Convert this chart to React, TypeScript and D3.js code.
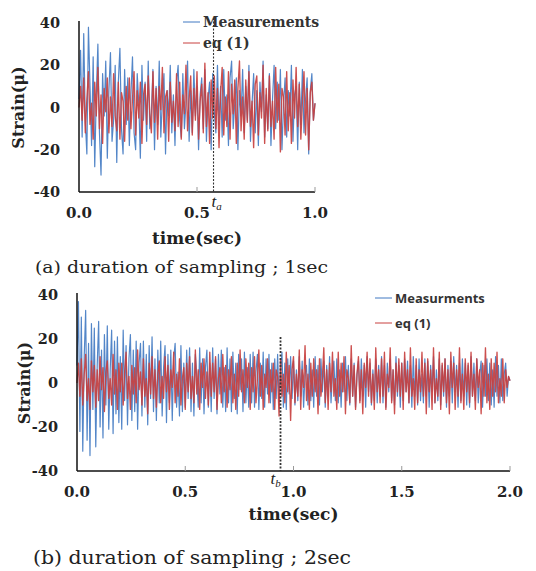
import React from "react";
import * as d3 from "d3";

// ---------- data ----------
const yTicks = [40, 20, 0, -20, -40];
const xTicksA = [0, 0.5, 1.0];
const xTicksB = [0, 0.5, 1.0, 1.5, 2.0];
const legendA = ["Measurements", "eq (1)"];
const legendB = ["Measurments", "eq (1)"];
const markerA = 0.57;
const markerB = 0.94;

// panel (a): 0 - 1 sec
const measA = [
  4, 27, -14, 35, -6, -22, 38, 10, -18, 24, -28, 6, 30, -12, -32, 16,
  -4, 22, -24, 8, 26, -16, -6, 20, -26, 12, 28, -10, -22, 18, -8,
  14, -18, 6, 24, -12, -20, 16, 2, -24, 20, -6, 12, -16, 22, -10,
  -2, 18, -20, 10, -8, 22, -14, 4, 16, -22, 8, -4, 20, -12, 6,
  -18, 12, 20, -6, -14, 16, -10, 2, 22, -16, 8, -12, 18, -4, 10,
  -20, 6, 14, -10, 18, -16, 4, 12, -20, 16, -2, -12, 20, -8, 10,
  -14, 18, -6, 6, -18, 14, 22, -10, 2, 14, -20, 8, -4, 18, -12,
  10, -6, 20, -16, 2, 16, -12, 8, -18, 12, -2, 22, -14, 6, -10,
  16, -18, 4, 20, -10, 12, -6, 18, -20, 2, 14, -14, 8, -4, 20,
  -16, 6, 10, -20, 12, -8, 18, -12, 4, 14, -22, 8, 16, -6, 2,
];
const eqA = [
  0, 10, -6, 14, -12, 4, 17, -8, 2, -15, 12, -4, 19, -10, 6, -17,
  9, -2, 14, -12, 5, -9, 16, -4, -11, 12, -15, 7, 3, -16, 10,
  -6, 14, -10, 4, 17, -13, 8, -5, 12, -17, 6, 11, -8, 15, -3,
  -12, 17, -7, 9, -15, 10, -1, 19, -12, 5, 8, -16, 12, -7, 3,
  -11, 16, -9, 12, -15, 6, -3, 20, -11, 4, 15, -13, 9, -6, 17,
  -15, 3, 11, -12, 21, -9, 7, -17, 13, -5, 15, -10, 9, -19, 7,
  19, -13, 5, -9, 17, -15, 11, -3, 13, -17, 9, 22, -11, 5, -15,
  13, -7, 17, -9, 3, -19, 11, 15, -13, 7, -5, 20, -17, 9, -11,
  15, -9, 3, -15, 19, -7, 11, -21, 9, 5, -13, 17, -11, 7, -17,
  13, -5, 19, -9, 11, -15, 3, 17, -13, 9, -20, 7, 12, -6, 2,
];

// panel (b): 0 - 2 sec
const measB = [
  8, 37, -22, 30, -31, 12, 33, -26, 18, -33, 27, -12, 25, -29, 8,
  28, -20, 15, -25, 22, -10, 26, -21, 6, 24, -23, 19, -14, 21, -18,
  12, -21, 24, -8, 17, -19, 11, 22, -17, 15, -13, 19, -21, 9, 18,
  -15, 19, -11, 13, -19, 17, -7, 21, -13, 11, -17, 15, -9, 19, -15,
  7, 17, -18, 13, -9, 15, -17, 11, 18, -11, 5, -15, 17, -13, 9,
  -11, 15, -7, 16, -13, 9, -15, 13, 3, -11, 16, -9, 11, -14, 7,
  15, -11, 9, -13, 16, -7, 11, -14, 13, -5, 15, -11, 7, -13, 16,
  -9, 11, -13, 14, -7, 9, -14, 13, -3, 11, -13, 14, -9, 7, -11,
  13, -9, 14, -11, 5, 13, -12, 9, -7, 14, -11, 11, -5, 13, -9,
  9, -12, 11, -7, 13, -9, 5, 14, -11, 9, -12, 11, -5, 12, -7,
  10, -10, 6, -8, 12, -6, 10, -11, 4, 8, -10, 11, -8, 6, -11,
  12, -6, 8, -10, 11, -4, 10, -11, 8, -6, 12, -9, 4, 10, -8,
  11, -9, 6, -11, 9, -4, 12, -8, 8, -10, 11, -6, 9, -11, 4,
  10, -8, 11, -6, 8, -11, 12, -4, 9, -10, 6, -8, 11, -9, 8,
  -6, 12, -9, 8, -11, 9, -4, 11, -8, 6, -10, 12, -6, 8, -11,
  9, -8, 11, -4, 10, -9, 8, -11, 12, -6, 8, -10, 11, -8, 4,
  -9, 11, -6, 10, -11, 8, -4, 12, -9, 6, -8, 11, -10, 8, -6,
  11, -11, 8, -6, 10, -9, 12, -4, 8, -11, 9, -8, 11, -6, 9,
  -10, 8, -11, 12, -6, 9, -8, 11, -9, 4, 10, -11, 8, -6, 11,
  -8, 9, -10, 6, -11, 12, -6, 8, -9, 11, -8, 4, 9, -6, 3, 1,
];
const eqB = [
  0, 9, -6, 11, -10, 4, 13, -8, 2, -12, 10, -4, 8, -11, 6,
  -8, 12, -3, 7, -13, 5, 10, -7, 2, -10, 13, -5, 6, -12, 9,
  -4, 9, -10, 5, 14, -7, 3, -12, 8, -5, 7, -9, 15, -3, 5,
  -10, 11, -6, 2, -14, 9, -5, 12, -7, 6, -11, 4, 10, -9, 3,
  -7, 12, -4, 8, -12, 6, -2, 14, -9, 4, -6, 11, -10, 2, 7,
  -12, 9, -4, 12, -7, 3, -9, 15, -5, 6, -12, 9, -2, 11, -7,
  5, -10, 14, -6, 9, -4, 12, -12, 2, 7, -9, 13, -4, 8, -11,
  6, -3, 12, -9, 4, -12, 9, -6, 15, -4, 6, -9, 11, -2, 9,
  -12, 7, -4, 12, -9, 2, 15, -6, 8, -12, 4, -2, 11, -9, 6,
  -4, 9, -12, 6, 3, -15, 11, -6, 4, -9, 14, -4, 8, -17, 6,
  12, -9, 4, -6, 15, -12, 6, -2, 17, -8, 4, -12, 9, -6, 11,
  -4, 6, -14, 11, -6, 2, 16, -9, 6, -12, 9, -4, 14, -6, 2,
  -12, 14, -6, 9, -4, 12, -14, 6, 2, -9, 17, -6, 8, -12, 4,
  12, -9, 6, -14, 9, -2, 14, -6, 11, -9, 4, -12, 16, -4, 6,
  -9, 11, -6, 14, -12, 4, -2, 16, -9, 6, -14, 9, -4, 11, -6,
  9, -12, 14, -4, 6, -9, 16, -6, 2, -12, 11, -9, 6, -4, 14,
  -6, 9, -14, 11, -4, 6, -12, 16, -9, 2, -6, 14, -12, 9, -4,
  11, -9, 6, -14, 14, -2, 9, -12, 6, -6, 16, -9, 4, -12, 11,
  -4, 9, -9, 14, -6, 4, -12, 11, -2, 6, -14, 9, -6, 16, -9,
  4, -12, 11, -6, 9, -4, 14, -9, 2, -6, 11, -9, 6, -2, 3, 1,
];

const BLUE = "#4079c2";
const RED = "#c8403f";
const SERIF = "'DejaVu Serif', 'Liberation Serif', serif";
const SERIF2 = "'Liberation Serif', 'DejaVu Serif', serif";
const SANS = "'Open Sans', 'Noto Sans', sans-serif";

type PanelProps = {
  duration: number;
  xTicks: number[];
  x0: number; x1: number; yTop: number; yBot: number;
  meas: number[]; eq: number[];
  marker: number; markerTop: number; markerWidth: number; markerLabel: string; markerDx: number; markerDy: number;
  legend: string[]; legendX: number; legendY: number; legendGap: number; legendFont: string; legendSize: number;
  ylabelX: number; titleY: number; titleSize: number;
};

function Panel(p: PanelProps) {
  const x = d3.scaleLinear().domain([0, p.duration]).range([p.x0, p.x1]);
  const y = d3.scaleLinear().domain([-40, 40]).range([p.yBot, p.yTop]);
  const mk = (arr: number[]) => {
    const dt = p.duration / (arr.length - 1);
    return d3.line<number>().x((_, i) => x(i * dt)).y((v) => y(v))(arr) || "";
  };
  const mx = x(p.marker);
  return (
    <g>
      <path d={mk(p.meas)} fill="none" stroke={BLUE} strokeWidth={1.2} strokeOpacity={0.9} strokeLinejoin="round" />
      <path d={mk(p.eq)} fill="none" stroke={RED} strokeWidth={1.35} strokeOpacity={0.92} strokeLinejoin="round" />
      {/* axes */}
      <line x1={p.x0} x2={p.x0} y1={p.yTop - 2} y2={p.yBot} stroke="#111" strokeWidth={1.5} />
      <line x1={p.x0} x2={p.x1} y1={p.yBot} y2={p.yBot} stroke="#111" strokeWidth={1.6} />
      {p.xTicks.slice(1).map((t) => (
        <line key={t} x1={x(t)} x2={x(t)} y1={p.yBot} y2={p.yBot - 5} stroke="#999" strokeWidth={1} />
      ))}
      {yTicks.map((t) => (
        <text key={t} x={p.x0 - 19} y={y(t) + 5} textAnchor="end" fontFamily={SERIF} fontWeight="bold" fontSize={14.5} fill="#222">{t}</text>
      ))}
      {p.xTicks.map((t) => (
        <text key={t} x={x(t)} y={p.yBot + 26} textAnchor="middle" fontFamily={SERIF} fontWeight="bold" fontSize={15} fill="#222">{t.toFixed(1)}</text>
      ))}
      {/* marker */}
      <line x1={mx} x2={mx} y1={p.markerTop} y2={p.yBot} stroke="#333" strokeWidth={p.markerWidth} strokeDasharray="2,1.5" />
      <text x={mx + p.markerDx} y={p.yBot + p.markerDy} fontFamily={SERIF2} fontStyle="italic" fontSize={17} fill="#222">
        t<tspan fontSize={11} dy={3}>{p.markerLabel}</tspan>
      </text>
      {/* legend */}
      <line x1={p.legendX - 20} x2={p.legendX - 3} y1={p.legendY} y2={p.legendY} stroke={BLUE} strokeWidth={1} />
      <text x={p.legendX} y={p.legendY + 5} fontFamily={p.legendFont} fontWeight="bold" fontSize={p.legendSize} fill="#333">{p.legend[0]}</text>
      <line x1={p.legendX - 20} x2={p.legendX - 3} y1={p.legendY + p.legendGap} y2={p.legendY + p.legendGap} stroke={RED} strokeWidth={1} />
      <text x={p.legendX} y={p.legendY + p.legendGap + 5} fontFamily={p.legendFont} fontWeight="bold" fontSize={p.legendSize} fill="#333">{p.legend[1]}</text>
      {/* axis titles */}
      <text transform={`translate(${p.ylabelX},${(p.yTop + p.yBot) / 2}) rotate(-90)`} textAnchor="middle" fontFamily={SERIF} fontWeight="bold" fontSize={16} fill="#222">Strain(μ)</text>
      <text x={(p.x0 + p.x1) / 2} y={p.titleY} textAnchor="middle" fontFamily={SERIF} fontWeight="bold" fontSize={p.titleSize} fill="#222">time(sec)</text>
    </g>
  );
}

export default function App() {
  return (
    <svg width={536} height={571} style={{ position: "absolute", left: 0, top: 0, background: "#fff" }}>
      <Panel duration={1} xTicks={xTicksA} x0={79} x1={315} yTop={23} yBot={192}
        meas={measA} eq={eqA} marker={markerA} markerTop={18} markerWidth={1.1} markerLabel="a" markerDx={-2} markerDy={15}
        legend={legendA} legendX={203} legendY={22} legendGap={21} legendFont={SERIF} legendSize={14}
        ylabelX={24} titleY={244} titleSize={17} />
      <text x={35} y={273} fontFamily={SERIF} fontSize={17} fill="#222" textLength={293} lengthAdjust="spacingAndGlyphs">(a) duration of sampling ; 1sec</text>
      <Panel duration={2} xTicks={xTicksB} x0={77} x1={510} yTop={295} yBot={471}
        meas={measB} eq={eqB} marker={markerB} markerTop={337} markerWidth={1.8} markerLabel="b" markerDx={-10} markerDy={13}
        legend={legendB} legendX={395} legendY={298} legendGap={25} legendFont={SANS} legendSize={13}
        ylabelX={30} titleY={520} titleSize={17} />
      <text x={33} y={564} fontFamily={SERIF} fontSize={18} fill="#222" textLength={318} lengthAdjust="spacingAndGlyphs">(b) duration of sampling ; 2sec</text>
    </svg>
  );
}
